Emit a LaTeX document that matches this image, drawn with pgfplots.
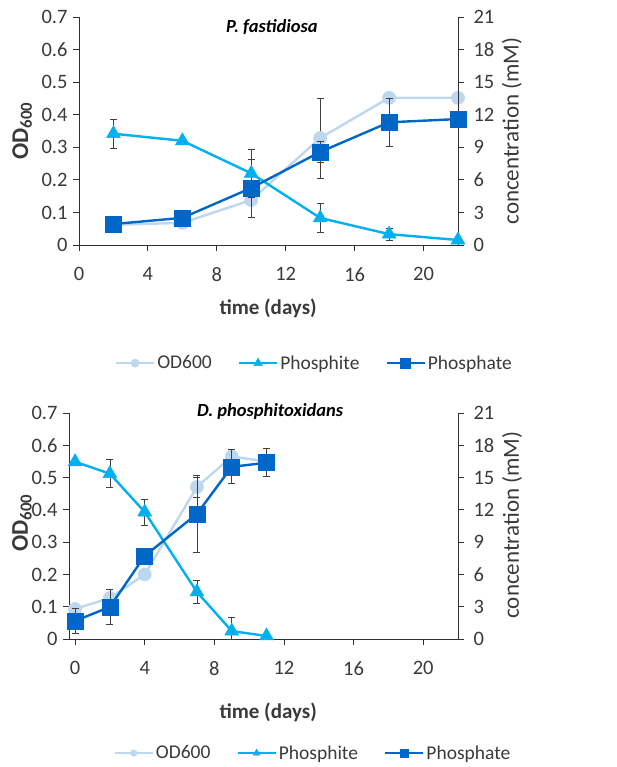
\documentclass[border=0pt]{standalone}
\usepackage{fontspec}
\setmainfont{Carlito}
\usepackage{pgfplots}
\pgfplotsset{compat=1.18}

\definecolor{odcol}{HTML}{BDD7EE}
\definecolor{pitecol}{HTML}{00B0F0}
\definecolor{patecol}{HTML}{0066C8}
\definecolor{axcol}{HTML}{303030}
\definecolor{txtcol}{HTML}{3A3A3A}
\definecolor{errcol}{HTML}{404040}

\pgfplotsset{
  base/.style={
    anchor=south west, scale only axis, clip=false,
    xtick={0,4,8,12,16,20},
    tick align=outside, major tick length=6pt,
    axis line style={-, draw=axcol, line width=0.9pt},
    tick style={draw=axcol, line width=0.9pt},
    ticklabel style={font=\fontsize{20.5}{22}\selectfont, text=txtcol},
    /pgf/number format/assume math mode=true,
    label style={text=txtcol},
  },
  leftax/.style={base, ymin=0, ymax=0.7, axis x line*=bottom, axis y line*=left,
    ytick={0,0.1,0.2,0.3,0.4,0.5,0.6,0.7},
    yticklabel style={/pgf/number format/fixed, /pgf/number format/precision=1, xshift=-2pt},
    xticklabel style={yshift=-13pt},
    ylabel={\bfseries OD\textsubscript{600}},
    xlabel={\bfseries time (days)},
    xlabel style={font=\fontsize{21}{23}\selectfont, anchor=center},
    ylabel style={font=\fontsize{24}{26}\selectfont, anchor=center},
    title style={font=\fontsize{18.5}{20}\selectfont\bfseries\itshape, anchor=center, text=black},
  },
  rightax/.style={base, ymin=0, ymax=21, axis y line*=right, axis x line=none,
    ytick={0,3,6,9,12,15,18,21},
    yticklabel style={xshift=6pt},
    ylabel={concentration (mM)},
    ylabel style={font=\fontsize{23}{25}\selectfont, anchor=center},
    legend columns=3,
    legend style={draw=none, fill=none, anchor=center,
      font=\fontsize{19.5}{21}\selectfont, text=txtcol,
      /tikz/every even column/.append style={column sep=24pt}},
  },
  od/.style={color=odcol, line width=2.4pt, mark=*, mark size=6.6pt, mark options={fill=odcol, draw=odcol, line width=0.5pt}},
  pite/.style={color=pitecol, line width=2.4pt, mark=triangle*, mark size=8pt, mark options={fill=pitecol, draw=pitecol, line width=0.5pt}},
  pate/.style={color=patecol, line width=2.4pt, mark=square*, mark size=8pt, mark options={fill=patecol, draw=patecol, line width=0.5pt}},
  errs/.style={forget plot, draw=none, mark=none,
    error bars/.cd, y dir=both, y explicit,
    error bar style={draw=errcol, line width=0.8pt, solid},
    error mark options={rotate=90, mark size=3.5pt, draw=errcol, line width=0.8pt}},
}

\begin{document}
\begin{tikzpicture}
\path[use as bounding box] (0pt,0pt) rectangle (617pt,-767pt);

% ---------- top panel: P. fastidiosa ----------
\begin{axis}[leftax, at={(79pt,-245pt)}, width=379pt, height=228pt, xmin=0, xmax=22,
    ylabel style={at={(axis description cs:-0.15,0.5)}},
    xlabel style={at={(axis description cs:0.499,-0.276)}},
    title={P. fastidiosa},
    title style={at={(axis description cs:0.509,0.93)}}]
\addplot[od] coordinates {(2,0.062) (6,0.068) (10,0.138) (14,0.3285) (18,0.452) (22,0.452)};
\addplot[errs] table[x=x, y=y, y error plus=ep, y error minus=em] {
x y ep em
14 0.3285 0.123 0.123
};
\end{axis}
\begin{axis}[rightax, at={(79pt,-245pt)}, width=379pt, height=228pt, xmin=0, xmax=22,
    ylabel style={at={(axis description cs:1.142,0.5)}},
    legend style={at={(axis description cs:0.621,-0.518)}},
    legend image code/.code={\draw[mark repeat=2, mark phase=2, every mark/.append style={scale=0.62}] plot coordinates {(0pt,0pt) (19pt,0pt) (38pt,0pt)};}]
\addlegendimage{od}
\addlegendentry{OD600}
\addplot[pite] coordinates {(2,10.25) (6,9.6) (10,6.6) (14,2.49) (18,1.0) (22,0.46)};
\addlegendentry{Phosphite}
\addplot[pate] coordinates {(2,1.93) (6,2.5) (10,5.25) (14,8.57) (18,11.3) (22,11.6)};
\addlegendentry{Phosphate}
\addplot[errs] table[x=x, y=y, y error plus=ep, y error minus=em] {
x y ep em
2 10.25 1.35 1.35
10 6.6 2.2 2.2
14 2.49 1.34 1.34
18 1.0 0.55 0.55
};
\addplot[errs] table[x=x, y=y, y error plus=ep, y error minus=em] {
x y ep em
10 5.25 2.67 2.67
14 8.57 0.97 0.97
18 11.3 2.2 2.2
};
\end{axis}

% ---------- bottom panel: D. phosphitoxidans ----------
\begin{axis}[leftax, at={(69pt,-639pt)}, width=389pt, height=226pt, xmin=-0.35, xmax=22,
    ylabel style={at={(axis description cs:-0.121,0.513)}},
    xlabel style={at={(axis description cs:0.512,-0.323)}},
    title={D. phosphitoxidans},
    title style={at={(axis description cs:0.517,0.982)}}]
\addplot[od] coordinates {(0,0.093) (2,0.127) (4,0.2) (7,0.471) (9,0.565) (11,0.55)};
\addplot[errs] table[x=x, y=y, y error plus=ep, y error minus=em] {
x y ep em
7 0.471 0.031 0.031
};
\end{axis}
\begin{axis}[rightax, at={(69pt,-639pt)}, width=389pt, height=226pt, xmin=-0.35, xmax=22,
    ylabel style={at={(axis description cs:1.139,0.504)}},
    legend style={at={(axis description cs:0.627,-0.505)}},
    legend image code/.code={\draw[mark repeat=2, mark phase=2, every mark/.append style={scale=0.5}] plot coordinates {(0pt,0pt) (19pt,0pt) (38pt,0pt)};}]
\addlegendimage{od}
\addlegendentry{OD600}
\addplot[pite] coordinates {(0,16.47) (2,15.36) (4,11.8) (7,4.37) (9,0.74) (11,0.28)};
\addlegendentry{Phosphite}
\addplot[pate] coordinates {(0,1.68) (2,2.98) (4,7.72) (7,11.63) (9,16.0) (11,16.38)};
\addlegendentry{Phosphate}
\addplot[errs] table[x=x, y=y, y error plus=ep, y error minus=em] {
x y ep em
2 15.36 1.3 1.3
4 11.8 1.2 1.2
7 4.37 1.1 1.1
9 0.74 1.3 0.74
};
\addplot[errs] table[x=x, y=y, y error plus=ep, y error minus=em] {
x y ep em
0 1.68 1.16 1.16
2 2.98 1.63 1.63
7 11.63 3.58 3.58
9 16.0 1.58 1.58
11 16.38 1.3 1.3
};
\end{axis}
\end{tikzpicture}
\end{document}
